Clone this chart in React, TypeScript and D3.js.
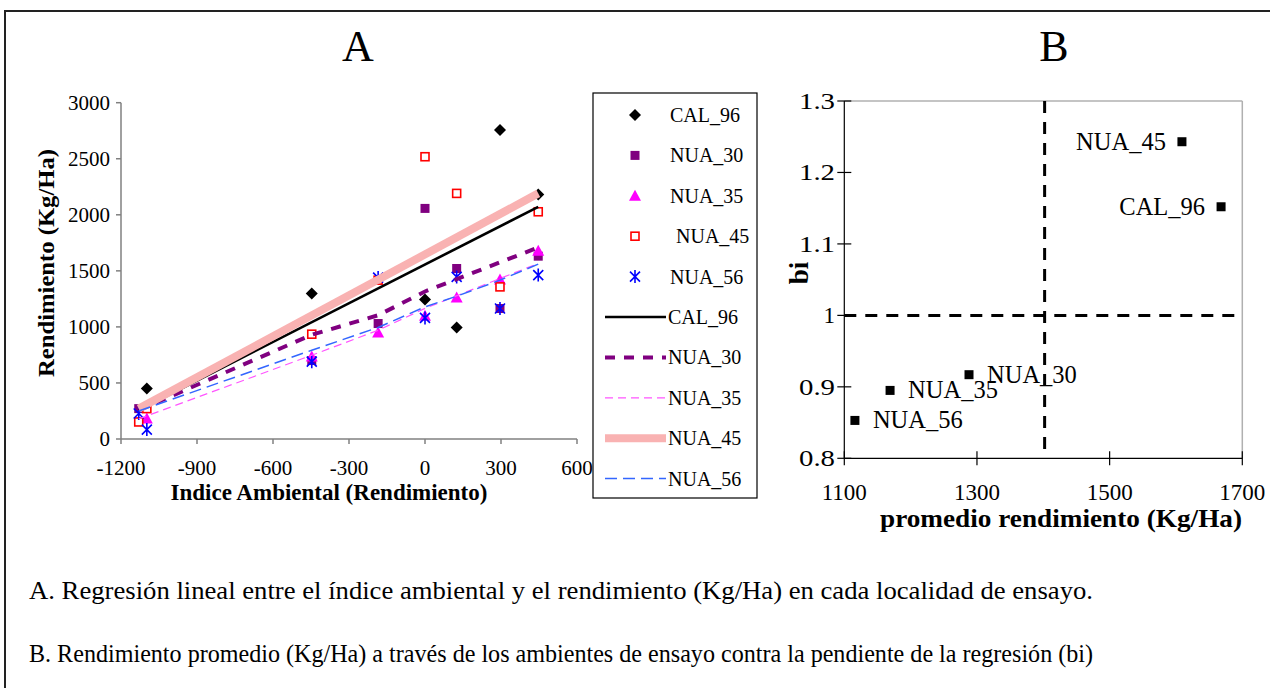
import React from 'react';
import * as d3 from 'd3';

// Environmental index of each trial location
const ENV_INDEX = [-1130, -1098, -447, -185, 0, 125, 296, 447];

// Observed yield (Kg/Ha) per genotype at each location (null = not sown / missing)
const YIELD_CAL_96 = [null, 450, 1298, null, 1245, 995, 2756, 2182];
const YIELD_NUA_30 = [271, null, 700, 1030, 2057, 1521, 1164, 1631];
const YIELD_NUA_35 = [null, 182, 735, 950, 1100, 1262, 1423, 1679];
const YIELD_NUA_45 = [152, 271, 935, 1417, 2518, 2191, 1357, 2027];
const YIELD_NUA_56 = [227, 84, 690, 1440, 1080, 1446, 1164, 1462];

// Fitted regression values
const FIT_X_CAL_96 = [-1130, 447];
const FIT_Y_CAL_96 = [256, 2071];
const FIT_X_NUA_30 = [-1130, -447, -185, 0, 447];
const FIT_Y_NUA_30 = [256, 930, 1104, 1316, 1709];
const FIT_X_NUA_35 = [-1130, -447, -185, 0, 296, 447];
const FIT_Y_NUA_35 = [180, 747, 970, 1165, 1432, 1566];
const FIT_X_NUA_45 = [-1130, 447];
const FIT_Y_NUA_45 = [271, 2191];
const FIT_X_NUA_56 = [-1130, -447, -185, 0, 125, 296, 447];
const FIT_Y_NUA_56 = [250, 792, 995, 1179, 1274, 1417, 1560];

const GENOTYPES = ['CAL_96', 'NUA_30', 'NUA_35', 'NUA_45', 'NUA_56'];

const X_TICKS_A = [-1200, -900, -600, -300, 0, 300, 600];
const Y_TICKS_A = [0, 500, 1000, 1500, 2000, 2500, 3000];

// Panel B: mean yield vs regression slope
const MEAN_YIELD = [1668, 1288, 1169, 1609, 1116];
const SLOPE_BI = [1.152, 0.917, 0.895, 1.243, 0.853];
const GRAND_MEAN = 1402;
const BI_REFERENCE = 1;
const X_TICKS_B = [1100, 1300, 1500, 1700];
const Y_TICKS_B = [0.8, 0.9, 1, 1.1, 1.2, 1.3];

const CAPTION_A = 'A. Regresión lineal entre el índice ambiental y el rendimiento (Kg/Ha) en cada localidad de ensayo.';
const CAPTION_B = 'B. Rendimiento promedio (Kg/Ha) a través de los ambientes de ensayo contra la pendiente de la regresión (bi)';

const FONT = '"Liberation Serif", "Times New Roman", Times, "DejaVu Serif", serif';

type MarkerKind = 'diamond' | 'square' | 'triangle' | 'hollow' | 'star';

const POINT_STYLE: { kind: MarkerKind }[] = [
  { kind: 'diamond' },
  { kind: 'square' },
  { kind: 'triangle' },
  { kind: 'hollow' },
  { kind: 'star' },
];

const LINE_STYLE = [
  { stroke: '#000000', width: 2.6, dash: undefined as string | undefined },
  { stroke: '#800080', width: 4, dash: '10,9' },
  { stroke: '#FF55FF', width: 1.2, dash: '8,5' },
  { stroke: '#F9B2B2', width: 8, dash: undefined },
  { stroke: '#3366FF', width: 1.5, dash: '12,6' },
];

function Marker({ kind, x, y }: { kind: MarkerKind; x: number; y: number }) {
  switch (kind) {
    case 'diamond':
      return <path d={`M${x},${y - 6}L${x + 6},${y}L${x},${y + 6}L${x - 6},${y}Z`} fill="#000" />;
    case 'square':
      return <rect x={x - 4.5} y={y - 4.5} width={9} height={9} fill="#800080" />;
    case 'triangle':
      return <path d={`M${x},${y - 6}L${x + 6},${y + 5}L${x - 6},${y + 5}Z`} fill="#FF00FF" />;
    case 'hollow':
      return <rect x={x - 4} y={y - 4} width={8} height={8} fill="#fff" stroke="#FF0000" strokeWidth={1.6} />;
    case 'star':
      return (
        <path
          d={`M${x - 5},${y - 5}L${x + 5},${y + 5}M${x - 5},${y + 5}L${x + 5},${y - 5}M${x},${y - 6.5}L${x},${y + 6.5}`}
          stroke="#0000FF"
          strokeWidth={1.6}
          fill="none"
        />
      );
  }
  return null;
}

export default function App() {
  const yields = [YIELD_CAL_96, YIELD_NUA_30, YIELD_NUA_35, YIELD_NUA_45, YIELD_NUA_56];
  const fits = [
    [FIT_X_CAL_96, FIT_Y_CAL_96],
    [FIT_X_NUA_30, FIT_Y_NUA_30],
    [FIT_X_NUA_35, FIT_Y_NUA_35],
    [FIT_X_NUA_45, FIT_Y_NUA_45],
    [FIT_X_NUA_56, FIT_Y_NUA_56],
  ];

  // Panel A scales
  const xA = d3.scaleLinear().domain([-1200, 600]).range([121, 577]);
  const yA = d3.scaleLinear().domain([0, 3000]).range([439, 102.7]);
  const line = d3
    .line<[number, number]>()
    .x((d) => xA(d[0]))
    .y((d) => yA(d[1]));

  // Panel B scales
  const xB = d3.scaleLinear().domain([1100, 1700]).range([844.3, 1242.3]);
  const yB = d3.scaleLinear().domain([0.8, 1.3]).range([458.3, 101]);

  const legendRowY = (i: number) => 115 + i * 40.4;

  return (
    <svg
      width={1270}
      height={688}
      style={{ position: 'absolute', left: 0, top: 0, background: '#fff', fontFamily: FONT }}
    >
      <rect x={0} y={0} width={1270} height={688} fill="#fff" />
      {/* frame */}
      <path d="M5,700V11H1280" fill="none" stroke="#222" strokeWidth={2} />

      {/* ---------- Panel A ---------- */}
      <text x={358} y={61} fontSize={44} textAnchor="middle">A</text>

      {/* axes */}
      <g stroke="#808080" strokeWidth={1.5}>
        <line x1={xA(-1200)} x2={xA(-1200)} y1={yA(0)} y2={yA(3000)} />
        <line x1={xA(-1200)} x2={xA(600)} y1={yA(0)} y2={yA(0)} />
        {Y_TICKS_A.map((t) => (
          <line key={t} x1={xA(-1200) - 5} x2={xA(-1200)} y1={yA(t)} y2={yA(t)} />
        ))}
        {X_TICKS_A.map((t) => (
          <line key={t} x1={xA(t)} x2={xA(t)} y1={yA(0)} y2={yA(0) + 5} />
        ))}
      </g>
      {Y_TICKS_A.map((t) => (
        <text key={t} x={110} y={yA(t) + 7} fontSize={21} textAnchor="end">{t}</text>
      ))}
      {X_TICKS_A.map((t) => (
        <text key={t} x={xA(t)} y={475} fontSize={21} textAnchor="middle">{t}</text>
      ))}
      <text x={329} y={500} fontSize={23} fontWeight="bold" textAnchor="middle">
        Indice Ambiental (Rendimiento)
      </text>
      <text
        transform={`translate(54,263) rotate(-90)`}
        fontSize={23}
        fontWeight="bold"
        textAnchor="middle"
        textLength={228}
        lengthAdjust="spacingAndGlyphs"
      >
        Rendimiento (Kg/Ha)
      </text>

      {/* observed points */}
      {yields.map((series, s) =>
        series.map((v, i) =>
          v == null ? null : (
            <Marker key={`${s}-${i}`} kind={POINT_STYLE[s].kind} x={xA(ENV_INDEX[i])} y={yA(v)} />
          ),
        ),
      )}

      {/* regression lines */}
      {fits.map(([fx, fy], s) => (
        <path
          key={s}
          d={line(fx.map((x, i) => [x, fy[i]] as [number, number])) || ''}
          fill="none"
          stroke={LINE_STYLE[s].stroke}
          strokeWidth={LINE_STYLE[s].width}
          strokeDasharray={LINE_STYLE[s].dash}
        />
      ))}

      {/* legend */}
      <rect x={593} y={93} width={164} height={405} fill="#fff" stroke="#000" strokeWidth={1.2} />
      {GENOTYPES.map((g, i) => (
        <g key={`p-${g}`}>
          <Marker kind={POINT_STYLE[i].kind} x={635} y={legendRowY(i)} />
          <text x={g === 'NUA_45' ? 676 : 670} y={legendRowY(i) + 7} fontSize={20}>{g}</text>
        </g>
      ))}
      {GENOTYPES.map((g, i) => (
        <g key={`l-${g}`}>
          <line
            x1={605}
            x2={666}
            y1={legendRowY(i + 5)}
            y2={legendRowY(i + 5)}
            stroke={LINE_STYLE[i].stroke}
            strokeWidth={LINE_STYLE[i].width}
            strokeDasharray={LINE_STYLE[i].dash}
          />
          <text x={668} y={legendRowY(i + 5) + 7} fontSize={20}>{g}</text>
        </g>
      ))}

      {/* ---------- Panel B ---------- */}
      <text x={1054} y={61} fontSize={44} textAnchor="middle">B</text>

      <g stroke="#b0b0b0" strokeWidth={1.5}>
        <line x1={xB(1100)} x2={xB(1700)} y1={yB(1.3)} y2={yB(1.3)} />
        <line x1={xB(1700)} x2={xB(1700)} y1={yB(1.3)} y2={yB(0.8)} />
      </g>
      <g stroke="#000" strokeWidth={1.2}>
        <line x1={xB(1100)} x2={xB(1100)} y1={yB(0.8)} y2={yB(1.3)} />
        <line x1={xB(1100)} x2={xB(1700)} y1={yB(0.8)} y2={yB(0.8)} />
        {Y_TICKS_B.map((t) => (
          <line key={t} x1={xB(1100) - 7} x2={xB(1100) + 7} y1={yB(t)} y2={yB(t)} />
        ))}
        {X_TICKS_B.map((t) => (
          <line key={t} x1={xB(t)} x2={xB(t)} y1={yB(0.8) - 7} y2={yB(0.8) + 7} />
        ))}
      </g>
      {Y_TICKS_B.map((t) => {
        const label = String(t);
        const decimal = label.includes('.');
        return (
          <text
            key={t}
            x={835}
            y={yB(t) + 8}
            fontSize={23}
            textAnchor="end"
            textLength={decimal ? 36 : undefined}
            lengthAdjust={decimal ? 'spacingAndGlyphs' : undefined}
          >
            {label}
          </text>
        );
      })}
      {X_TICKS_B.map((t) => (
        <text key={t} x={xB(t)} y={500} fontSize={23} textAnchor="middle">{t}</text>
      ))}
      <text x={1061} y={527} fontSize={26} fontWeight="bold" textAnchor="middle" textLength={362} lengthAdjust="spacingAndGlyphs">
        promedio rendimiento (Kg/Ha)
      </text>
      <text transform={`translate(808,273) rotate(-90)`} fontSize={27} fontWeight="bold" textAnchor="middle">
        bi
      </text>

      {/* reference lines */}
      <g stroke="#000" strokeWidth={3} strokeDasharray="12,9">
        <line x1={xB(1100)} x2={xB(1700)} y1={yB(BI_REFERENCE)} y2={yB(BI_REFERENCE)} />
        <line x1={xB(GRAND_MEAN)} x2={xB(GRAND_MEAN)} y1={yB(1.3)} y2={yB(0.8)} />
      </g>

      {GENOTYPES.map((g, i) => {
        const px = xB(MEAN_YIELD[i]);
        const py = yB(SLOPE_BI[i]);
        const leftSide = MEAN_YIELD[i] > GRAND_MEAN;
        return (
          <g key={`b-${g}`}>
            <rect x={px - 4.5} y={py - 4.5} width={9} height={9} fill="#000" />
            <text
              x={leftSide ? px - 16 : px + 18}
              y={py + 8}
              fontSize={24.5}
              textAnchor={leftSide ? 'end' : 'start'}
            >
              {g}
            </text>
          </g>
        );
      })}

      {/* captions */}
      <text x={29} y={599} fontSize={25} textLength={1064} lengthAdjust="spacingAndGlyphs">{CAPTION_A}</text>
      <text x={29} y={662} fontSize={25} textLength={1064} lengthAdjust="spacingAndGlyphs">{CAPTION_B}</text>
    </svg>
  );
}
